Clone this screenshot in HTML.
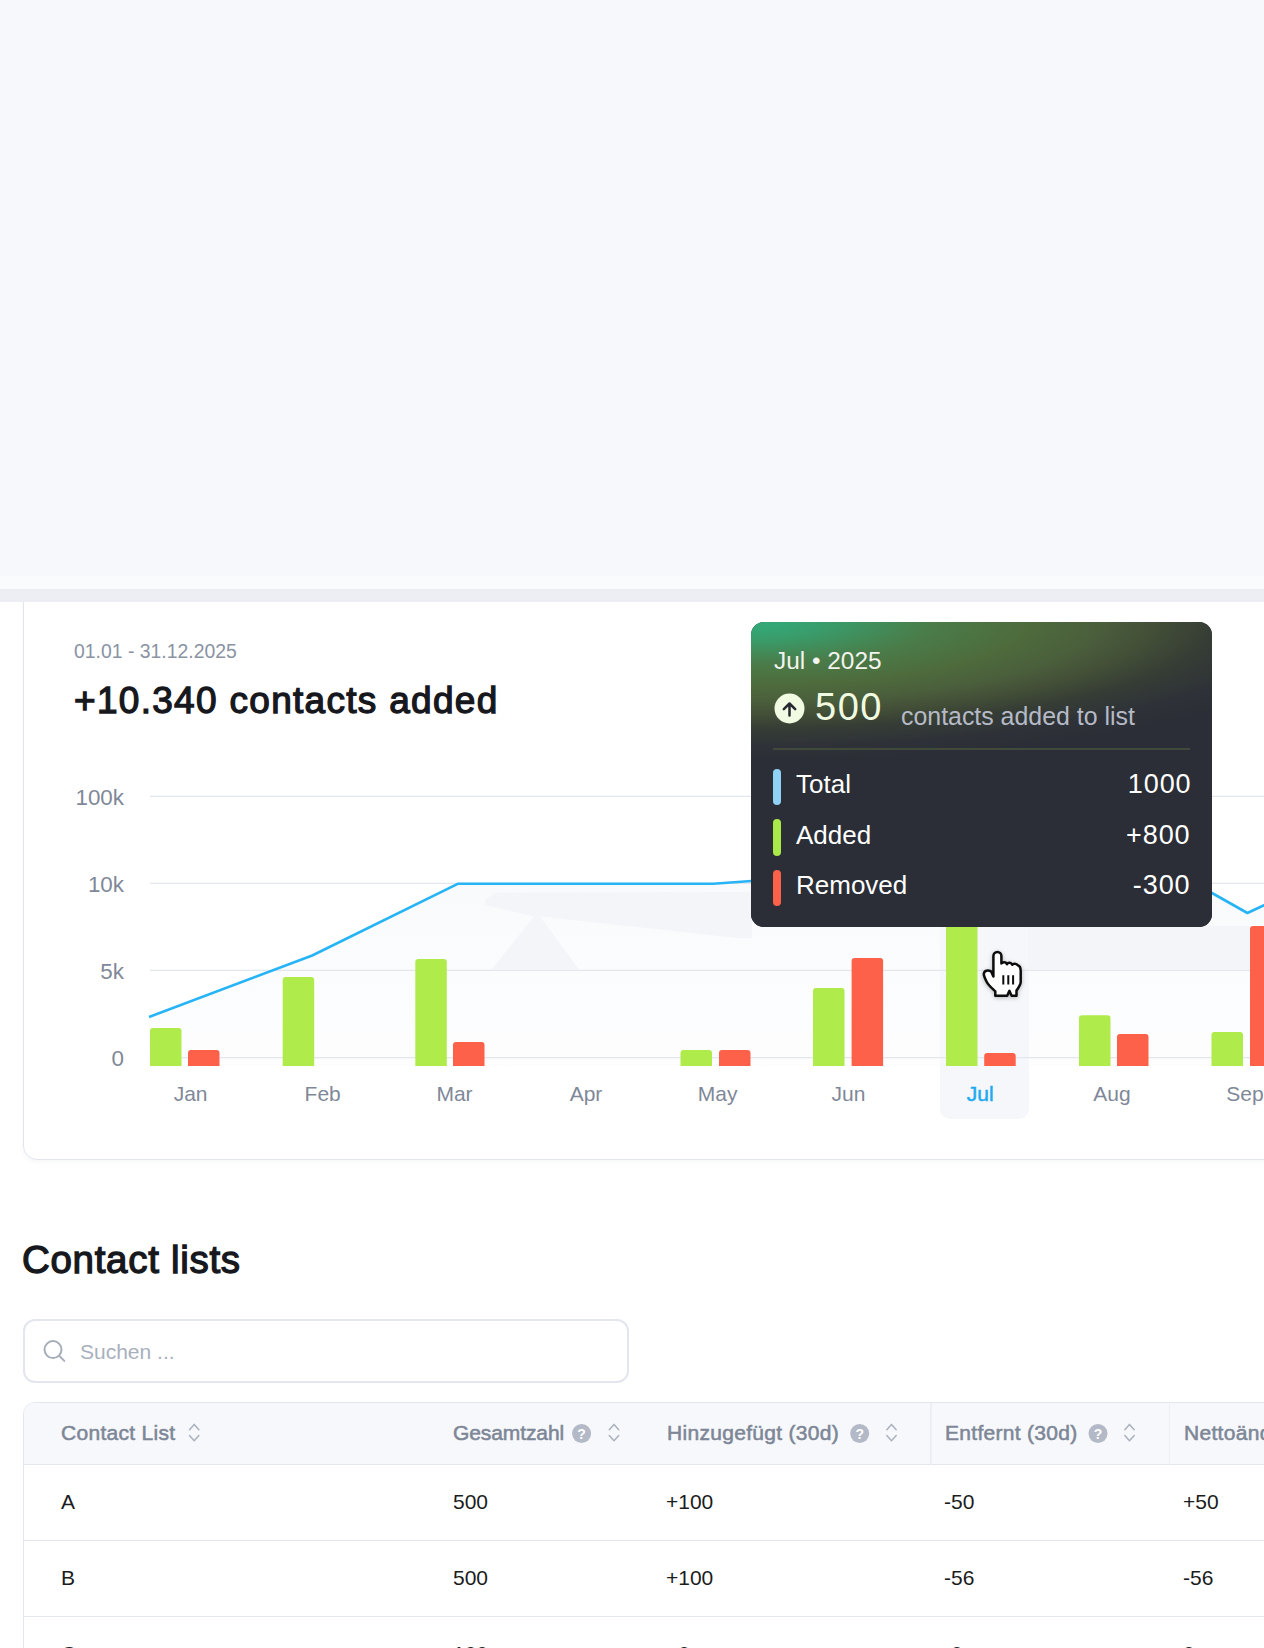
<!DOCTYPE html>
<html><head><meta charset="utf-8">
<style>
*{box-sizing:border-box;margin:0;padding:0}
html,body{width:1264px;height:1648px;overflow:hidden;background:#fff}
body{position:relative;font-family:"Liberation Sans",Arial,sans-serif;color:#16181d}
.abs{position:absolute}
#topbg{left:0;top:0;width:1264px;height:576px;background:#f7f8fc}
#band1{left:0;top:576px;width:1264px;height:13px;background:#fafbfd}
#band2{left:0;top:589px;width:1264px;height:13px;background:#edeef3}
#card{left:23px;top:560px;width:1300px;height:600px;border:1.5px solid #e3e5ec;border-radius:14px;background:#fff;box-shadow:0 2px 4px rgba(30,40,80,0.04)}
.t{position:absolute;white-space:nowrap;line-height:1}
#date{left:74px;top:642px;font-size:19.4px;color:#8a93a3}
#headline{left:74px;top:681.5px;font-size:37px;font-weight:normal;-webkit-text-stroke:1.3px #16181d;letter-spacing:1.3px;color:#16181d}
#chart{left:0;top:0}
#tip{left:751px;top:622px;width:461px;height:305px;border-radius:13px;background:#2b2e36;overflow:hidden}
#tipgrad{left:0;top:0;width:461px;height:305px;background:radial-gradient(ellipse 600px 138px at 0px 0px,#33a978 0%,#35a574 6%,#3a9a68 14%,#4a7c49 30%,#4e6b3c 46%,#4a5e3c 58%,#434f37 67%,#363d35 77%,#2e3238 90%,#2b2e36 100%)}
#h2{left:22px;top:1241px;font-size:38.5px;font-weight:normal;-webkit-text-stroke:1.3px #16181d;letter-spacing:0.7px;color:#16181d}
#search{left:22.5px;top:1319px;width:606px;height:64px;border:2px solid #e3e6ef;border-radius:12px;background:#fff}
#table{left:23px;top:1402px;width:1300px;height:400px;border:1.5px solid #e3e6ee;border-radius:12px;overflow:hidden;background:#fff}
#thead{left:0;top:0;width:1300px;height:62px;background:#f7f8fb;border-bottom:1.5px solid #e3e6ee}
.row{position:absolute;left:0;width:1300px;height:76px;border-bottom:1.5px solid #e3e6ee}
.th{font-size:21px;font-weight:normal;-webkit-text-stroke:0.55px #7d8797;color:#7d8797;letter-spacing:0.3px}
.td{font-size:21px;color:#1a1c20}
</style></head><body>
<div id="card" class="abs"></div>
<div id="topbg" class="abs"></div>
<div id="band1" class="abs"></div>
<div id="band2" class="abs"></div>

<div id="date" class="t">01.01 - 31.12.2025</div>
<div id="headline" class="t">+10.340 contacts added</div>

<svg id="chart" class="abs" width="1264" height="1648" viewBox="0 0 1264 1648" style="position:absolute;left:0;top:0">
  <!-- area fill -->
  <defs><linearGradient id="ag" x1="0" y1="860" x2="0" y2="1066" gradientUnits="userSpaceOnUse"><stop offset="0" stop-color="#f8f9fc"/><stop offset="0.5" stop-color="#fbfcfd"/><stop offset="1" stop-color="#fdfdfe"/></linearGradient></defs>
  <polygon points="149,1017 312.2,955.5 458.2,883.7 713.2,883.7 751.5,881 980,865 1112,836.5 1247.4,913 1264,905.4 1264,1066 149,1066" fill="url(#ag)"/>
  <!-- Jul highlight -->
  <rect x="940" y="880" width="89" height="239" rx="10" fill="#f6f7fa"/>
  <!-- grid -->
  <g stroke="#e4e6ee" stroke-width="1.3">
    <line x1="150" y1="796.4" x2="1264" y2="796.4"/>
    <line x1="150" y1="883.4" x2="1264" y2="883.4"/>
    <line x1="150" y1="970.4" x2="1264" y2="970.4"/>
    <line x1="150" y1="1057.6" x2="1264" y2="1057.6"/>
  </g>
  <!-- ghost -->
  <polygon points="485,900 495,892.5 752,892 752,938 738,938 540,916.5 579,969.6 491.6,969.6 534,916.5 485,905" fill="#f4f5f8"/>
  <polygon points="1028,926 1250,926 1250,969.6 1028,969.6" fill="#f4f5f8"/>
  <!-- axis labels -->
  <g font-family="Liberation Sans, Arial, sans-serif" font-size="22.4" fill="#7f8898" text-anchor="end">
    <text x="124" y="805.3">100k</text>
    <text x="124" y="892.3">10k</text>
    <text x="124" y="979.3">5k</text>
    <text x="124" y="1066.3">0</text>
  </g>
  <g font-family="Liberation Sans, Arial, sans-serif" font-size="21" fill="#7f8898" text-anchor="middle">
    <text x="190.6" y="1101.3">Jan</text>
    <text x="322.7" y="1101.3">Feb</text>
    <text x="454.5" y="1101.3">Mar</text>
    <text x="586" y="1101.3">Apr</text>
    <text x="717.6" y="1101.3">May</text>
    <text x="848.4" y="1101.3">Jun</text>
    <text x="980.3" y="1101.3" fill="#1eaaf0" stroke="#1eaaf0" stroke-width="0.5">Jul</text>
    <text x="1112" y="1101.3">Aug</text>
    <text x="1245" y="1101.3">Sep</text>
  </g>
  <!-- bars -->
  <g fill="#afeb4b">
    <path d="M150,1066V1031a3,3 0 0 1 3,-3h25.5a3,3 0 0 1 3,3V1066z"/>
    <path d="M282.7,1066V980a3,3 0 0 1 3,-3h25.5a3,3 0 0 1 3,3V1066z"/>
    <path d="M415.3,1066V962a3,3 0 0 1 3,-3h25.5a3,3 0 0 1 3,3V1066z"/>
    <path d="M680.5,1066V1053a3,3 0 0 1 3,-3h25.5a3,3 0 0 1 3,3V1066z"/>
    <path d="M813,1066V991a3,3 0 0 1 3,-3h25.5a3,3 0 0 1 3,3V1066z"/>
    <path d="M946,1066V910a3,3 0 0 1 3,-3h25.5a3,3 0 0 1 3,3V1066z"/>
    <path d="M1079,1066V1018.3a3,3 0 0 1 3,-3h25.5a3,3 0 0 1 3,3V1066z"/>
    <path d="M1211.5,1066V1035a3,3 0 0 1 3,-3h25.5a3,3 0 0 1 3,3V1066z"/>
  </g>
  <g fill="#fe614a">
    <path d="M188,1066V1053a3,3 0 0 1 3,-3h25.5a3,3 0 0 1 3,3V1066z"/>
    <path d="M453,1066V1045a3,3 0 0 1 3,-3h25.5a3,3 0 0 1 3,3V1066z"/>
    <path d="M719,1066V1053a3,3 0 0 1 3,-3h25.5a3,3 0 0 1 3,3V1066z"/>
    <path d="M851.6,1066V961a3,3 0 0 1 3,-3h25.5a3,3 0 0 1 3,3V1066z"/>
    <path d="M984.2,1066V1056a3,3 0 0 1 3,-3h25.5a3,3 0 0 1 3,3V1066z"/>
    <path d="M1117,1066V1037a3,3 0 0 1 3,-3h25.5a3,3 0 0 1 3,3V1066z"/>
    <path d="M1250,1066V929a3,3 0 0 1 3,-3h25.5a3,3 0 0 1 3,3V1066z"/>
  </g>
  <!-- line -->
  <polyline points="149,1017 312.2,955.5 458.2,883.7 713.2,883.7 751.5,881 980,865 1112,836.5 1247.4,913 1270,902.4" fill="none" stroke="#27b4f6" stroke-width="2.6" stroke-linejoin="round"/>
</svg>

<!-- tooltip -->
<div id="tip" class="abs">
  <div id="tipgrad" class="abs"></div>
</div>
<div class="t" style="left:774px;top:649px;font-size:24.4px;color:#f3f4ee">Jul • 2025</div>
<svg class="abs" style="left:774px;top:693px" width="31" height="31" viewBox="0 0 31 31">
  <circle cx="15.5" cy="15.5" r="15" fill="#f1fbe2"/>
  <path d="M15.5 22.4V10.8M9.8 16.2L15.5 10.5L21.2 16.2" stroke="#262a30" stroke-width="2.5" fill="none" stroke-linecap="round" stroke-linejoin="round"/>
</svg>
<div class="t" style="left:815px;top:688px;font-size:38px;letter-spacing:1.5px;color:#f1fbe2">500</div>
<div class="t" style="left:901px;top:704px;font-size:24.9px;color:#b6bac6">contacts added to list</div>
<div class="abs" style="left:773px;top:748px;width:417px;height:1.5px;background:#3f4a3a"></div>

<div class="abs" style="left:773px;top:768.5px;width:7.5px;height:36.5px;border-radius:4px;background:#8fd2f6"></div>
<div class="abs" style="left:773px;top:819px;width:7.5px;height:36.5px;border-radius:4px;background:#a9e948"></div>
<div class="abs" style="left:773px;top:869.5px;width:7.5px;height:36.5px;border-radius:4px;background:#fe614a"></div>
<div class="t" style="left:796px;top:771px;font-size:26px;color:#ffffff">Total</div>
<div class="t" style="left:796px;top:822px;font-size:26px;color:#ffffff">Added</div>
<div class="t" style="left:796px;top:872px;font-size:26px;color:#ffffff">Removed</div>
<div class="t" style="right:72.5px;top:771px;font-size:27px;letter-spacing:0.9px;color:#ffffff">1000</div>
<div class="t" style="right:73.5px;top:822px;font-size:27px;letter-spacing:0.9px;color:#ffffff">+800</div>
<div class="t" style="right:73.5px;top:872px;font-size:27px;letter-spacing:0.9px;color:#ffffff">-300</div>

<!-- cursor -->
<svg class="abs" style="left:0;top:0;filter:drop-shadow(0 1.5px 2px rgba(0,0,0,0.28))" width="1264" height="1648" viewBox="0 0 1264 1648">
  <path d="M993.4,976.5 L993.4,956 A4,4 0 0 1 1001.4,956 L1001.4,963.5 C1003,961.8 1006,961.8 1007,964.3 C1008,962.3 1011,962.3 1012.2,964.8 C1013.2,963.2 1016.5,963.2 1017.8,965.3 C1020,966 1020.7,968 1020.7,971 L1020.7,982 C1020.7,985 1018.5,987.5 1016.5,990.5 L1016.5,995.8 L1011.6,995.8 L1009.4,990.8 L1007.2,995.8 L995.3,995.8 L995.3,991.3 C992,988.3 988.5,985.5 986.5,981.5 C985,978.5 983.7,976 983.8,973.8 C984.2,970.4 988,969.8 991,971.3 Z" fill="#fff" stroke="#0d0d0d" stroke-width="2.5" stroke-linejoin="round"/>
  <path d="M1003.3,975.3V984.6M1008.3,975.3V984.6M1013.1,975.3V984.6" stroke="#0d0d0d" stroke-width="2"/>
</svg>

<!-- contact lists -->
<div id="h2" class="t">Contact lists</div>
<div id="search" class="abs"></div>
<svg class="abs" style="left:43px;top:1340px" width="23" height="23" viewBox="0 0 23 23">
  <circle cx="10" cy="9.6" r="8.5" fill="none" stroke="#a6adba" stroke-width="2"/>
  <path d="M16.3 15.9L21.3 20.9" stroke="#a6adba" stroke-width="2" stroke-linecap="round"/>
</svg>
<div class="t" style="left:80px;top:1340.5px;font-size:21px;color:#a9b0bd">Suchen ...</div>

<div id="table" class="abs">
  <div id="thead" class="abs"></div>
  <div class="row" style="top:62px"></div>
  <div class="row" style="top:138px"></div>
  <div class="abs" style="left:906.2px;top:0;width:1.5px;height:62px;background:#eceef4"></div>
  <div class="abs" style="left:1144.6px;top:0;width:1.5px;height:62px;background:#eceef4"></div>
</div>
<div class="t th" style="left:61px;top:1422px">Contact List</div>
<div class="t th" style="left:453px;top:1422px;letter-spacing:-0.1px">Gesamtzahl</div>
<div class="t th" style="left:667px;top:1422px">Hinzugefügt (30d)</div>
<div class="t th" style="left:945px;top:1422px">Entfernt (30d)</div>
<div class="t th" style="left:1184px;top:1422px">Nettoänderung</div>

<svg class="abs" style="left:0;top:0" width="1264" height="1648" viewBox="0 0 1264 1648">
<path d="M189.5,1429.7L194.2,1424.4L198.9,1429.7M189.5,1435.5L194.2,1440.7L198.9,1435.5" fill="none" stroke="#aab1be" stroke-width="1.5" stroke-linecap="round" stroke-linejoin="round"/>
<path d="M609.3,1429.7L614.0,1424.4L618.7,1429.7M609.3,1435.5L614.0,1440.7L618.7,1435.5" fill="none" stroke="#aab1be" stroke-width="1.5" stroke-linecap="round" stroke-linejoin="round"/>
<path d="M886.8,1429.7L891.5,1424.4L896.2,1429.7M886.8,1435.5L891.5,1440.7L896.2,1435.5" fill="none" stroke="#aab1be" stroke-width="1.5" stroke-linecap="round" stroke-linejoin="round"/>
<path d="M1124.8,1429.7L1129.5,1424.4L1134.2,1429.7M1124.8,1435.5L1129.5,1440.7L1134.2,1435.5" fill="none" stroke="#aab1be" stroke-width="1.5" stroke-linecap="round" stroke-linejoin="round"/>
<circle cx="581.6" cy="1433.5" r="9.5" fill="#b3b9c6"/><text x="581.6" y="1439.2" font-family="Liberation Sans, Arial, sans-serif" font-weight="bold" font-size="14" fill="#fff" text-anchor="middle">?</text>
<circle cx="859.7" cy="1433.5" r="9.5" fill="#b3b9c6"/><text x="859.7" y="1439.2" font-family="Liberation Sans, Arial, sans-serif" font-weight="bold" font-size="14" fill="#fff" text-anchor="middle">?</text>
<circle cx="1098.0" cy="1433.5" r="9.5" fill="#b3b9c6"/><text x="1098.0" y="1439.2" font-family="Liberation Sans, Arial, sans-serif" font-weight="bold" font-size="14" fill="#fff" text-anchor="middle">?</text>
</svg>
<div class="t td" style="left:61px;top:1491px">A</div>
<div class="t td" style="left:453px;top:1491px">500</div>
<div class="t td" style="left:666px;top:1491px">+100</div>
<div class="t td" style="left:944px;top:1491px">-50</div>
<div class="t td" style="left:1183px;top:1491px">+50</div>
<div class="t td" style="left:61px;top:1567px">B</div>
<div class="t td" style="left:453px;top:1567px">500</div>
<div class="t td" style="left:666px;top:1567px">+100</div>
<div class="t td" style="left:944px;top:1567px">-56</div>
<div class="t td" style="left:1183px;top:1567px">-56</div>
<div class="t td" style="left:61px;top:1643px">C</div>
<div class="t td" style="left:453px;top:1643px">100</div>
<div class="t td" style="left:666px;top:1643px">+0</div>
<div class="t td" style="left:944px;top:1643px">-0</div>
<div class="t td" style="left:1183px;top:1643px">0</div>
</body></html>
